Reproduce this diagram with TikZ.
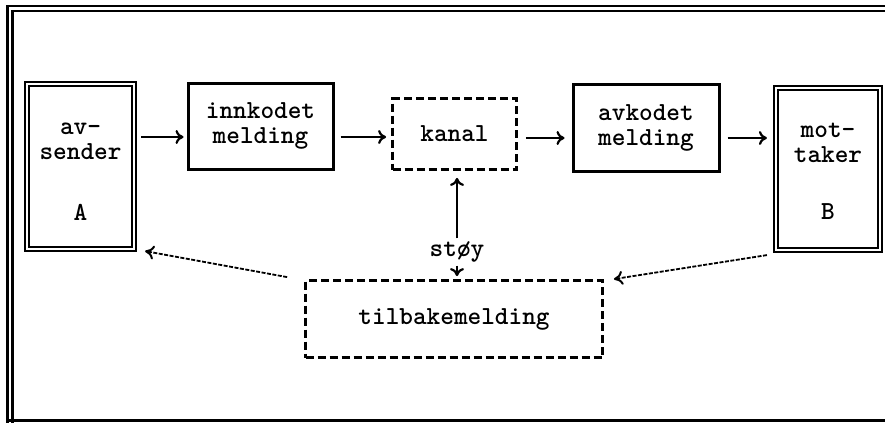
\documentclass[tikz,border=0pt]{standalone}
\usepackage{fontspec}
\usetikzlibrary{arrows.meta,calc}
\tikzset{
  txt/.style={font=\ttfamily\bfseries\fontsize{26}{25}\selectfont, align=center, inner sep=0pt},
  dbox/.style={draw, double, line width=2.2pt, double distance=2pt, inner sep=0pt},
  sbox/.style={draw, line width=3pt, inner sep=0pt},
  dashbox/.style={draw, line width=2.8pt, dash pattern=on 8pt off 4pt, inner sep=0pt},
  arr/.style={line width=2.4pt, -{To[length=8pt,width=14pt,line width=2.2pt]}},
  darr/.style={line width=1.8pt, dash pattern=on 4pt off 1.5pt, -{To[length=9pt,width=14pt,line width=2pt]}},
  frame/.style={line width=2.5pt}
}
\begin{document}
\begin{tikzpicture}[x=1pt,y=-1pt]
\useasboundingbox (0,0) rectangle (885,423);
\fill[white] (0,0) rectangle (885,423);
% frame
\draw[frame] (885,6) -- (7.5,6) -- (7.5,423);
\draw[frame] (885,11) -- (12.5,11) -- (12.5,423);
\draw[frame] (7.5,420.5) -- (885,420.5);
% boxes
\node[dbox, minimum width=107pt, minimum height=165pt] (A) at (80.5,166.5) {};
\node[txt] (Atxt) at (80.5,141) {av-\\sender};
\node[txt] (Albl) at (80.5,212) {A};
\node[sbox, minimum width=145pt, minimum height=86pt, txt] (inn) at (260.5,126) {innkodet\\melding};
\node[dashbox, minimum width=124pt, minimum height=71pt, txt] (kanal) at (454.5,134) {kanal};
\node[sbox, minimum width=146pt, minimum height=87pt, txt] (avk) at (646,127.5) {avkodet\\melding};
\node[dbox, minimum width=104pt, minimum height=162pt] (B) at (828,169) {};
\node[txt] (Btxt) at (828,143) {mot-\\taker};
\node[txt] (Blbl) at (828,212) {B};
\node[dashbox, minimum width=297pt, minimum height=77pt, txt] (tb) at (454,319) {tilbakemelding};
\node[txt] (stoy) at (457,252) {støy};
% arrows
\draw[arr] ([xshift=6pt,yshift=29.5pt]A.east) -- ([xshift=-3pt,yshift=-11pt]inn.west);
\draw[arr] ([xshift=6pt,yshift=-11pt]inn.east) -- ([xshift=-5pt,yshift=-3pt]kanal.west);
\draw[arr] ([xshift=8pt,yshift=-4pt]kanal.east) -- ([xshift=-7pt,yshift=-10.5pt]avk.west);
\draw[arr] ([xshift=7pt,yshift=-10.5pt]avk.east) -- ([xshift=-8pt,yshift=31pt]B.west);
\draw[arr] ([xshift=0pt,yshift=3pt]stoy.north) -- ([xshift=2.5pt,yshift=-7pt]kanal.south);
\draw[arr] ([xshift=0pt,yshift=-3pt]stoy.south) -- ([xshift=3pt,yshift=3pt]tb.north);
\draw[darr] ([xshift=-17pt,yshift=2pt]tb.north west) -- ([xshift=10pt,yshift=-1pt]A.south east);
\draw[darr] ([xshift=-8pt,yshift=-4pt]B.south west) -- ([xshift=10pt]tb.north east);
\end{tikzpicture}
\end{document}
